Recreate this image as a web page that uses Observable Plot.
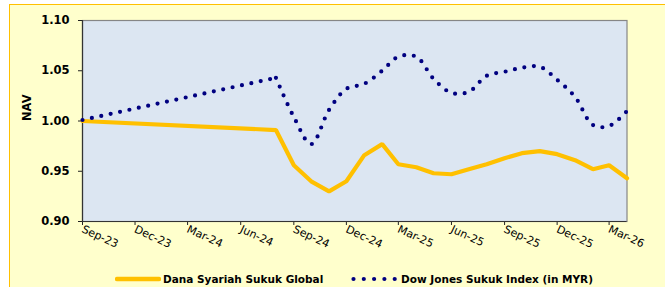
<!DOCTYPE html>
<html><head><meta charset="utf-8">
<script src="https://cdn.jsdelivr.net/npm/d3@7"></script>
<script src="https://cdn.jsdelivr.net/npm/@observablehq/plot@0.6"></script>
<style>
html,body{margin:0;padding:0;background:#fff;}
body{width:665px;height:287px;overflow:hidden;position:relative;font-family:"DejaVu Sans",sans-serif;}
#frame{position:absolute;left:9px;top:4px;width:700px;height:320px;background:#FFFFCC;border:1.5px solid #FFC000;box-sizing:border-box;}
#chart{position:absolute;left:0;top:0;}
.leg{position:absolute;top:272px;height:14px;display:flex;align-items:center;font-weight:bold;font-size:10.5px;color:#000;white-space:nowrap;}
.leg svg{display:block;margin-right:2px;}
</style>
</head><body>
<div id="frame"></div>
<div id="chart"></div>
<div class="leg" id="leg1" style="left:115px"></div>
<div class="leg" id="leg2" style="left:349px"></div>
<script>
const months = ["2023-09","2024-08","2024-09","2024-10","2024-11","2024-12","2025-01","2025-02","2025-03","2025-04","2025-05","2025-06","2025-07","2025-08","2025-09","2025-10","2025-11","2025-12","2026-01","2026-02","2026-03","2026-04"];
const fundNav  = [1.000,0.991,0.956,0.940,0.930,0.940,0.966,0.977,0.957,0.954,0.948,0.947,0.952,0.957,0.963,0.968,0.970,0.967,0.961,0.952,0.956,0.943];
const indexNav = [1.001,1.043,1.004,0.977,1.011,1.032,1.037,1.050,1.064,1.064,1.042,1.028,1.029,1.045,1.049,1.053,1.054,1.041,1.024,0.996,0.995,1.010];
const xTickMonths = ["2023-09","2023-12","2024-03","2024-06","2024-09","2024-12","2025-03","2025-06","2025-09","2025-12","2026-03"];
const yTicks = [0.90,0.95,1.00,1.05,1.10];
const seriesNames = ["Dana Syariah Sukuk Global","Dow Jones Sukuk Index (in MYR)"];
const yLabel = "NAV";

const parse = d3.utcParse("%Y-%m");
const fund = months.map((m,i)=>({date:parse(m), v:fundNav[i]}));
const idx = months.map((m,i)=>({date:parse(m), v:indexNav[i]}));

const plot = Plot.plot({
  width: 665, height: 287,
  marginLeft: 82, marginRight: 38.5, marginTop: 20, marginBottom: 66,
  style: {background:"transparent", fontFamily:"DejaVu Sans, sans-serif", color:"#000"},
  x: {type:"utc", domain:[parse("2023-09"), parse("2026-04")]},
  y: {domain:[0.9,1.1]},
  marks: [
    Plot.frame({fill:"#DCE6F2", stroke:"#868686", strokeWidth:1.2}),
    Plot.axisY({ticks:yTicks, tickFormat:d3.format(".2f"), tickSize:4, tickPadding:9, fontSize:11.5, fontWeight:"bold", label:null, stroke:"#222"}),
    Plot.axisX({ticks:xTickMonths.map(parse), tickFormat:d3.utcFormat("%b-%y"), tickSize:4, tickPadding:3, tickRotate:25, textAnchor:"start", fontSize:11, label:null, stroke:"#222"}),
    Plot.ruleX([parse("2023-09")], {stroke:"#333", strokeWidth:1.2}),
    Plot.ruleY([0.9], {stroke:"#333", strokeWidth:1.2}),
    Plot.text([yLabel], {frameAnchor:"left", dx:-55, rotate:-90, fontWeight:"bold", fontSize:11.5, fill:"#000"}),
    Plot.lineY(fund, {x:"date", y:"v", stroke:"#FFC000", strokeWidth:4.2, strokeLinejoin:"miter"}),
    Plot.lineY(idx.slice(0,2), {x:"date", y:"v", stroke:"#000080", strokeWidth:4.2, strokeLinecap:"round", strokeDasharray:"0 9.6"}),
    Plot.lineY(idx.slice(1), {x:"date", y:"v", stroke:"#000080", strokeWidth:4.2, strokeLinecap:"round", strokeDasharray:"0 9.6", curve:"catmull-rom"})
  ]
});
document.getElementById("chart").append(plot);

document.getElementById("leg1").innerHTML =
  `<svg width="46" height="10"><line x1="2" y1="5" x2="44" y2="5" stroke="#FFC000" stroke-width="4.5" stroke-linecap="round"/></svg><span>${seriesNames[0]}</span>`;
document.getElementById("leg2").innerHTML =
  `<svg width="50" height="10"><line x1="4.5" y1="5" x2="46" y2="5" stroke="#000080" stroke-width="4.2" stroke-linecap="round" stroke-dasharray="0 10.3"/></svg><span>${seriesNames[1]}</span>`;
</script>
</body></html>
